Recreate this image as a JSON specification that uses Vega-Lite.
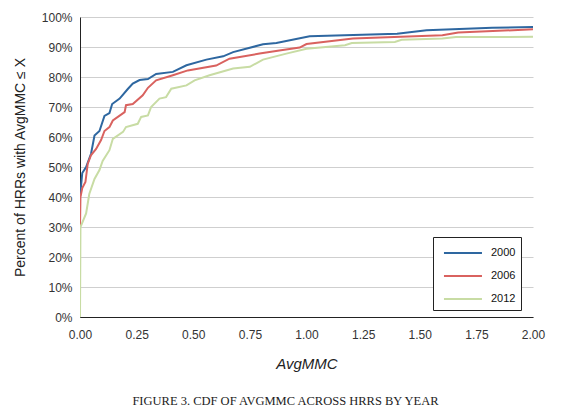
{
  "$schema": "https://vega.github.io/schema/vega-lite/v6.json",
  "autosize": {"type": "none"},
  "width": 453,
  "height": 300,
  "padding": {"left": 80, "top": 17, "right": 49, "bottom": 94},
  "background": "white",
  "title": {
    "text": "FIGURE 3. CDF OF AVGMMC ACROSS HRRS BY YEAR",
    "orient": "bottom",
    "anchor": "middle",
    "font": "Liberation Serif",
    "fontSize": 12.5,
    "fontWeight": "normal",
    "color": "#222",
    "offset": 24,
    "dx": -21
  },
  "data": {
    "values": [
      {"x": 0, "pct": 40, "year": "2000"},
      {"x": 0.005, "pct": 44, "year": "2000"},
      {"x": 0.01, "pct": 48, "year": "2000"},
      {"x": 0.027, "pct": 50, "year": "2000"},
      {"x": 0.049, "pct": 54.5, "year": "2000"},
      {"x": 0.064, "pct": 60.5, "year": "2000"},
      {"x": 0.086, "pct": 62, "year": "2000"},
      {"x": 0.108, "pct": 67, "year": "2000"},
      {"x": 0.13, "pct": 68, "year": "2000"},
      {"x": 0.142, "pct": 71, "year": "2000"},
      {"x": 0.175, "pct": 72.8, "year": "2000"},
      {"x": 0.211, "pct": 76, "year": "2000"},
      {"x": 0.233, "pct": 77.8, "year": "2000"},
      {"x": 0.263, "pct": 79, "year": "2000"},
      {"x": 0.3, "pct": 79.3, "year": "2000"},
      {"x": 0.336, "pct": 81, "year": "2000"},
      {"x": 0.41, "pct": 81.7, "year": "2000"},
      {"x": 0.47, "pct": 83.9, "year": "2000"},
      {"x": 0.558, "pct": 85.8, "year": "2000"},
      {"x": 0.632, "pct": 86.9, "year": "2000"},
      {"x": 0.676, "pct": 88.3, "year": "2000"},
      {"x": 0.808, "pct": 90.9, "year": "2000"},
      {"x": 0.867, "pct": 91.3, "year": "2000"},
      {"x": 1.014, "pct": 93.6, "year": "2000"},
      {"x": 1.4, "pct": 94.4, "year": "2000"},
      {"x": 1.53, "pct": 95.6, "year": "2000"},
      {"x": 1.82, "pct": 96.4, "year": "2000"},
      {"x": 2.0, "pct": 96.7, "year": "2000"},

      {"x": 0, "pct": 30, "year": "2006"},
      {"x": 0.002, "pct": 40, "year": "2006"},
      {"x": 0.01, "pct": 43, "year": "2006"},
      {"x": 0.024, "pct": 45, "year": "2006"},
      {"x": 0.034, "pct": 51, "year": "2006"},
      {"x": 0.049, "pct": 54, "year": "2006"},
      {"x": 0.071, "pct": 56, "year": "2006"},
      {"x": 0.093, "pct": 59, "year": "2006"},
      {"x": 0.108, "pct": 62, "year": "2006"},
      {"x": 0.13, "pct": 63.3, "year": "2006"},
      {"x": 0.145, "pct": 65.5, "year": "2006"},
      {"x": 0.197, "pct": 68.3, "year": "2006"},
      {"x": 0.203, "pct": 70.6, "year": "2006"},
      {"x": 0.233, "pct": 71, "year": "2006"},
      {"x": 0.277, "pct": 73.9, "year": "2006"},
      {"x": 0.3, "pct": 76.4, "year": "2006"},
      {"x": 0.336, "pct": 78.9, "year": "2006"},
      {"x": 0.41, "pct": 80.6, "year": "2006"},
      {"x": 0.476, "pct": 82.2, "year": "2006"},
      {"x": 0.601, "pct": 83.8, "year": "2006"},
      {"x": 0.66, "pct": 86.1, "year": "2006"},
      {"x": 0.793, "pct": 87.8, "year": "2006"},
      {"x": 0.88, "pct": 88.8, "year": "2006"},
      {"x": 0.97, "pct": 89.8, "year": "2006"},
      {"x": 1.0, "pct": 91, "year": "2006"},
      {"x": 1.205, "pct": 92.8, "year": "2006"},
      {"x": 1.6, "pct": 93.9, "year": "2006"},
      {"x": 1.67, "pct": 94.8, "year": "2006"},
      {"x": 2.0, "pct": 95.9, "year": "2006"},

      {"x": 0, "pct": 0, "year": "2012"},
      {"x": 0.002, "pct": 30, "year": "2012"},
      {"x": 0.027, "pct": 34.5, "year": "2012"},
      {"x": 0.041, "pct": 41, "year": "2012"},
      {"x": 0.064, "pct": 46, "year": "2012"},
      {"x": 0.086, "pct": 49, "year": "2012"},
      {"x": 0.1, "pct": 52, "year": "2012"},
      {"x": 0.13, "pct": 55.6, "year": "2012"},
      {"x": 0.145, "pct": 59.4, "year": "2012"},
      {"x": 0.19, "pct": 61.7, "year": "2012"},
      {"x": 0.203, "pct": 63.3, "year": "2012"},
      {"x": 0.255, "pct": 64.4, "year": "2012"},
      {"x": 0.27, "pct": 66.7, "year": "2012"},
      {"x": 0.3, "pct": 67.2, "year": "2012"},
      {"x": 0.314, "pct": 70, "year": "2012"},
      {"x": 0.351, "pct": 72.8, "year": "2012"},
      {"x": 0.38, "pct": 73.3, "year": "2012"},
      {"x": 0.403, "pct": 76.1, "year": "2012"},
      {"x": 0.47, "pct": 77.2, "year": "2012"},
      {"x": 0.506, "pct": 78.9, "year": "2012"},
      {"x": 0.572, "pct": 80.6, "year": "2012"},
      {"x": 0.676, "pct": 82.8, "year": "2012"},
      {"x": 0.75, "pct": 83.4, "year": "2012"},
      {"x": 0.808, "pct": 85.8, "year": "2012"},
      {"x": 0.911, "pct": 87.8, "year": "2012"},
      {"x": 1.0, "pct": 89.4, "year": "2012"},
      {"x": 1.17, "pct": 90.6, "year": "2012"},
      {"x": 1.2, "pct": 91.3, "year": "2012"},
      {"x": 1.39, "pct": 91.7, "year": "2012"},
      {"x": 1.42, "pct": 92.4, "year": "2012"},
      {"x": 1.6, "pct": 92.8, "year": "2012"},
      {"x": 1.66, "pct": 93.3, "year": "2012"},
      {"x": 2.0, "pct": 93.4, "year": "2012"}
    ]
  },
  "mark": {"type": "line", "strokeWidth": 2, "clip": true},
  "encoding": {
    "x": {
      "field": "x",
      "type": "quantitative",
      "scale": {"domain": [0, 2], "nice": false, "zero": false},
      "axis": {
        "title": "AvgMMC",
        "titleFontStyle": "italic",
        "titleFont": "Liberation Sans",
        "titleFontSize": 15,
        "titleFontWeight": "normal",
        "titleColor": "#222",
        "titlePadding": 16,
        "values": [0, 0.25, 0.5, 0.75, 1, 1.25, 1.5, 1.75, 2],
        "format": ".2f",
        "labelFlush": false,
        "labelFont": "Liberation Sans",
        "labelFontSize": 12,
        "labelColor": "#333",
        "labelPadding": 12,
        "ticks": false,
        "grid": false,
        "domainColor": "#222",
        "domainWidth": 1
      }
    },
    "y": {
      "field": "pct",
      "type": "quantitative",
      "scale": {"domain": [0, 100], "nice": false},
      "axis": {
        "title": "Percent of HRRs with AvgMMC ≤ X",
        "titleFont": "Liberation Sans",
        "titleFontSize": 14,
        "titleFontWeight": "normal",
        "titleColor": "#222",
        "titlePadding": 14,
        "values": [0, 10, 20, 30, 40, 50, 60, 70, 80, 90, 100],
        "labelExpr": "datum.value + '%'",
        "labelFont": "Liberation Sans",
        "labelFontSize": 12,
        "labelColor": "#333",
        "labelPadding": 8,
        "labelFlush": false,
        "ticks": false,
        "grid": true,
        "gridColor": "#cfcfcf",
        "gridWidth": 1,
        "domainColor": "#222",
        "domainWidth": 1
      }
    },
    "color": {
      "field": "year",
      "type": "nominal",
      "scale": {"domain": ["2000", "2006", "2012"], "range": ["#2e67a0", "#d9625f", "#c8dca4"]},
      "legend": {
        "title": null,
        "orient": "none",
        "legendX": 353,
        "legendY": 220,
        "symbolType": "M-0.53,0L3.47,0",
        "symbolSize": 361,
        "symbolStrokeWidth": 2,
        "symbolFillColor": "transparent",
        "labelExpr": "datum.label + '   '",
        "labelFont": "Liberation Sans",
        "labelFontSize": 11,
        "labelColor": "#111",
        "labelOffset": 31.5,
        "strokeColor": "#222",
        "fillColor": "white",
        "padding": 5.5,
        "rowPadding": 7
      }
    }
  },
  "config": {
    "view": {"stroke": null}
  }
}
